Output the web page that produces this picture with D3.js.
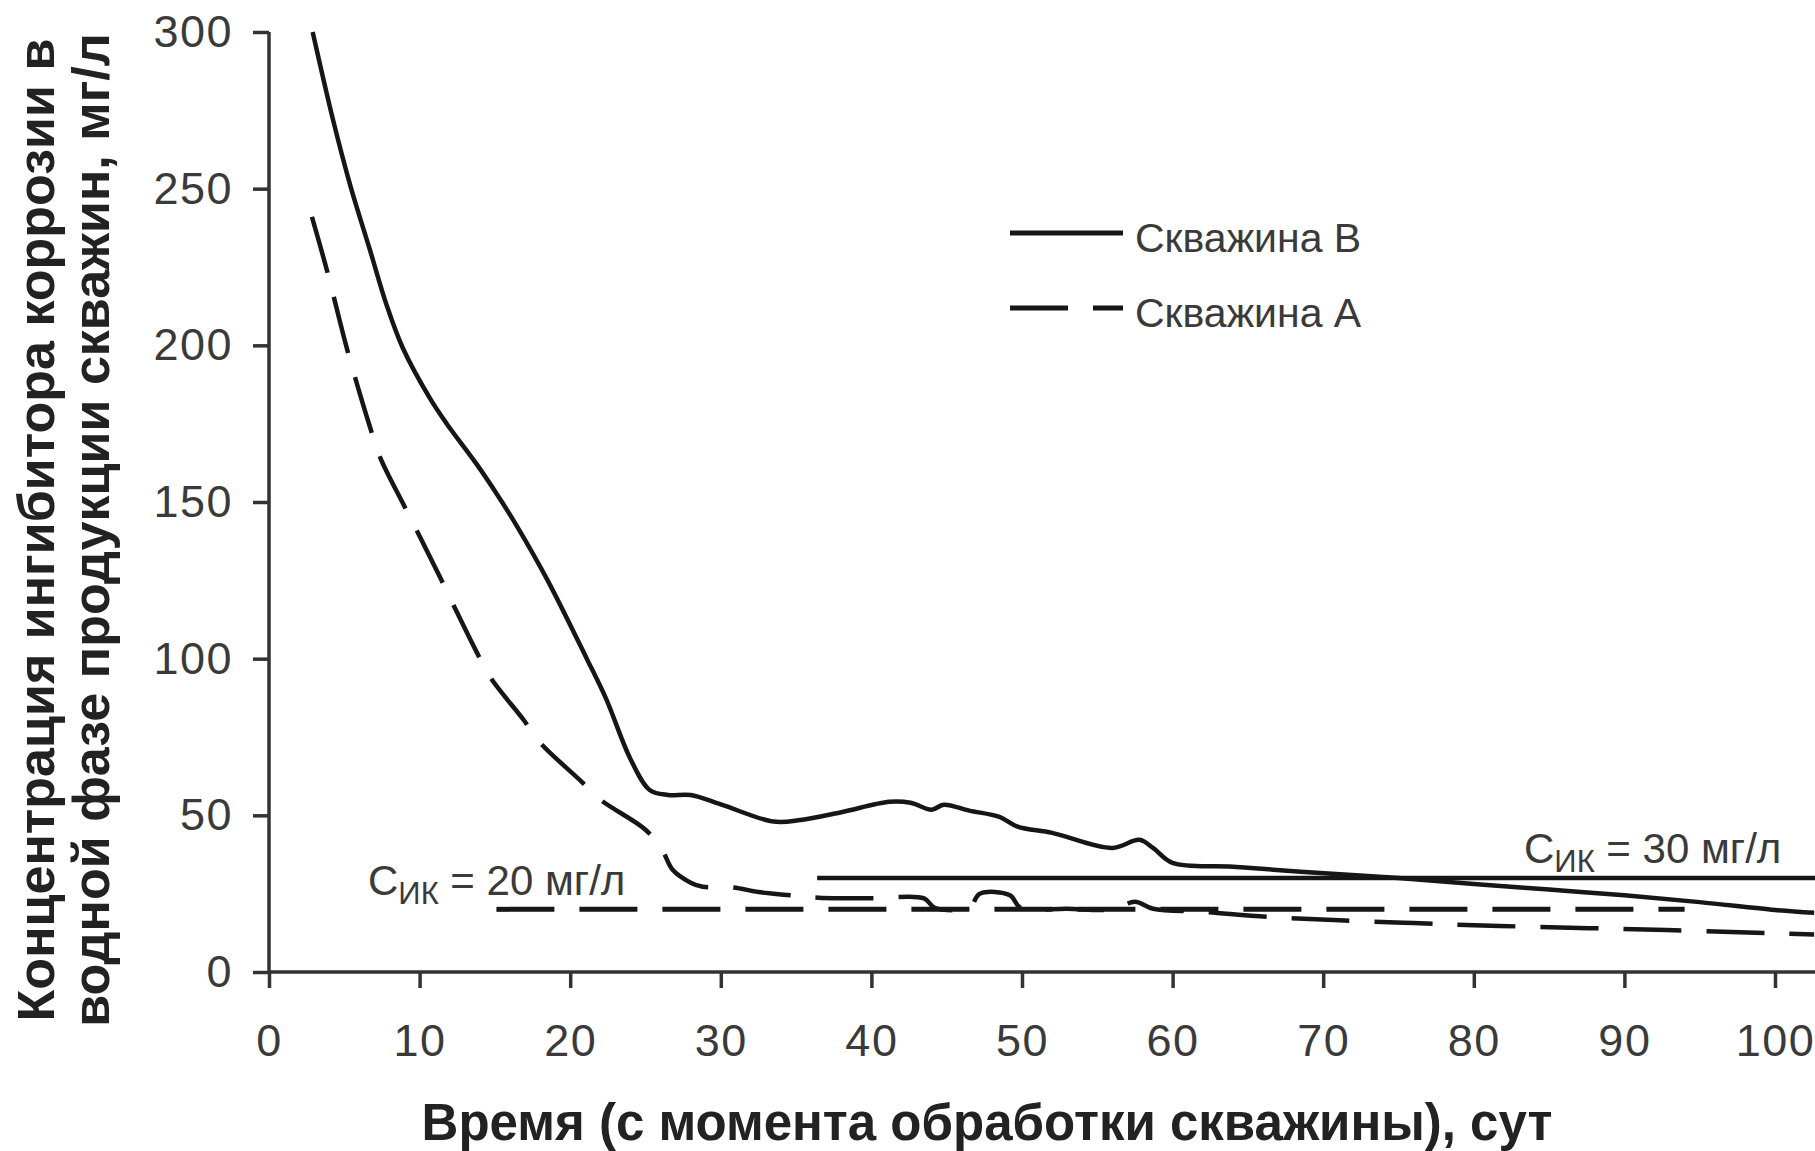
<!doctype html>
<html lang="ru">
<head>
    <meta charset="utf-8">
    <title></title>
    <script src="https://d3js.org/d3.v7.min.js"></script>
    <style type="text/css">
        body { margin: 0; background: #fff; }
        text { font-family: "Liberation Sans", Arial, sans-serif; }
    </style>
</head>

<body>
</body>

<script type="text/javascript">

    var width  = 1815;
    var height = 1151;

    // Скважина В (solid)
    var tB = [2.9, 4.25, 5.4, 6.7, 7.8, 8.9, 10.7, 11.8, 13.8, 15.2, 16.5, 18.5, 21.1, 22.4, 24, 25.3, 26.5, 28, 30,
              33.5, 35.3, 38, 41.2, 42.6, 44, 44.8, 46.5, 48.5, 49.7, 52, 56, 57.8, 58.7, 60, 64, 68.5,
              75, 80, 85, 90, 95, 100, 102.6];
    var vB = [300, 272, 251, 230.5, 213, 199, 183, 175, 162, 152, 142, 125, 100, 87, 68, 58, 56.5, 56.5, 53.5,
              48, 48.5, 51, 54.3, 54, 51.8, 53.4, 51.5, 49.5, 46.4, 44.4, 39.6, 42.2, 39.6, 34.8, 33.6, 32,
              30, 28.1, 26.3, 24.5, 22.3, 19.8, 18.9];

    // Скважина А (dashed)
    var tA = [2.85, 3.9, 5.2, 6.7, 7.4, 8.9, 9.8, 11.4, 12.2, 13.8, 14.7, 16.9, 18, 20.7, 22, 25, 26.1, 26.8,
              28, 28.8, 30.8, 32.5, 34.4, 36.5, 40, 43.5, 44.2, 46.5, 47.2, 49.2, 49.9, 53, 56, 57.5, 58.7,
              62, 66.3, 70.7, 76, 81.7, 92.8, 100.3, 102.6];
    var vA = [241, 223, 198.5, 174, 164, 149.5, 141, 125.6, 117.6, 102, 94, 80.5, 73.2, 61, 55, 45.4, 39, 32.6,
              28.5, 27.2, 27, 25.5, 24.6, 23.7, 23.5, 23.5, 20.5, 20.5, 25, 24.5, 20.5, 20.2, 20, 22.4, 20.2,
              19.2, 17.6, 16.6, 15.6, 14.7, 13.4, 12.3, 12];

    // critical concentration lines
    var c30 = {from: 36.4, to: 105, value: 30};
    var c20 = {from: 15.1, to: 94, value: 20};

    var xTicks = [0, 10, 20, 30, 40, 50, 60, 70, 80, 90, 100];
    var yTicks = [0, 50, 100, 150, 200, 250, 300];
    var legendNames = ["Скважина В", "Скважина А"];

    var x = d3.scaleLinear().domain([0, 100]).range([269, 1775]);
    var y = d3.scaleLinear().domain([0, 300]).range([972, 32]);

    var svg = d3.select("body")
        .append("svg")
        .attr("width", width)
        .attr("height", height)
        .style("background", "#fff");

    var ink = "#161616";
    var gray = "#333";
    var labelGray = "#3a3a3a";

    // axes
    var yAxis = svg.append("g")
        .attr("transform", "translate(" + x(0) + ",0)")
        .call(d3.axisLeft(y).tickValues(yTicks).tickSize(16).tickSizeOuter(0).tickPadding(20));
    var xAxis = svg.append("g")
        .attr("transform", "translate(0," + y(0) + ")")
        .call(d3.axisBottom(x).tickValues(xTicks).tickSize(16).tickSizeOuter(0).tickPadding(36));

    [yAxis, xAxis].forEach(function(g) {
        g.select(".domain").remove();
        g.selectAll(".tick line").attr("stroke", gray).attr("stroke-width", 3.5);
        g.selectAll(".tick text").attr("fill", labelGray)
            .style("font-size", "45px")
            .style("letter-spacing", "1.5px")
            .style("font-family", "'Liberation Sans', Arial, sans-serif");
    });

    svg.append("line")
        .attr("x1", x(0)).attr("x2", x(0))
        .attr("y1", y(300)).attr("y2", y(0))
        .attr("stroke", gray).attr("stroke-width", 3.5);
    svg.append("line")
        .attr("x1", x(0)).attr("x2", width)
        .attr("y1", y(0)).attr("y2", y(0))
        .attr("stroke", gray).attr("stroke-width", 3.5);

    // axis titles
    svg.append("text")
        .attr("x", 987).attr("y", 1140)
        .attr("text-anchor", "middle")
        .attr("fill", "#222")
        .style("font-size", "51px").style("font-weight", "bold")
        .text("Время (с момента обработки скважины), сут");

    svg.append("text")
        .attr("transform", "translate(54,530) rotate(-90)")
        .attr("text-anchor", "middle")
        .attr("fill", "#222")
        .style("font-size", "52px").style("font-weight", "bold")
        .text("Концентрация ингибитора коррозии в");
    svg.append("text")
        .attr("transform", "translate(109,530) rotate(-90)")
        .attr("text-anchor", "middle")
        .attr("fill", "#222")
        .style("font-size", "52px").style("font-weight", "bold")
        .text("водной фазе продукции скважин, мг/л");

    // threshold lines
    svg.append("line")
        .attr("x1", x(c30.from)).attr("x2", x(c30.to))
        .attr("y1", y(c30.value)).attr("y2", y(c30.value))
        .attr("stroke", ink).attr("stroke-width", 4.5);
    svg.append("line")
        .attr("x1", x(c20.from)).attr("x2", x(c20.to))
        .attr("y1", y(c20.value)).attr("y2", y(c20.value))
        .attr("stroke", ink).attr("stroke-width", 5)
        .attr("stroke-dasharray", "58,25");

    // series
    var line = d3.line()
        .x(d => x(d[0]))
        .y(d => y(d[1]))
        .curve(d3.curveCatmullRom.alpha(0.5));

    svg.append("path")
        .datum(d3.zip(tB, vB))
        .attr("d", line)
        .attr("fill", "none")
        .attr("stroke", ink)
        .attr("stroke-width", 4.5)
        .attr("stroke-linejoin", "round");

    svg.append("path")
        .datum(d3.zip(tA, vA))
        .attr("d", line)
        .attr("fill", "none")
        .attr("stroke", ink)
        .attr("stroke-width", 4.5)
        .attr("stroke-dasharray", "58,25");

    // threshold labels
    function cLabel(px, py, val) {
        var t = svg.append("text")
            .attr("x", px).attr("y", py)
            .attr("fill", labelGray)
            .style("font-size", "42px");
        t.append("tspan").text("С");
        t.append("tspan").attr("dy", 9).style("font-size", "31px").text("ИК");
        t.append("tspan").attr("dy", -9).text(" = " + val + " мг/л");
    }
    cLabel(368, 895, c20.value);
    cLabel(1524, 863, c30.value);

    // legend
    var legend = svg.append("g");
    legendNames.forEach(function(name, i) {
        var ly = 233 + i * 75;
        legend.append("line")
            .attr("x1", 1010).attr("x2", 1123)
            .attr("y1", ly).attr("y2", ly)
            .attr("stroke", ink).attr("stroke-width", 5)
            .attr("stroke-dasharray", i === 0 ? null : "58,25");
        legend.append("text")
            .attr("x", 1135).attr("y", ly + 19)
            .attr("fill", labelGray)
            .style("font-size", "41px")
            .text(name);
    });

</script>

</html>
